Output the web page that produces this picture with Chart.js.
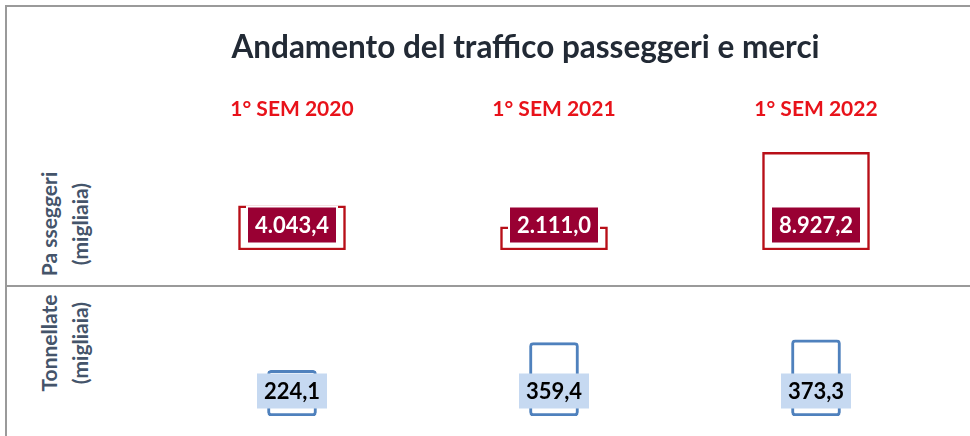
<!DOCTYPE html>
<html lang="it">
<head>
<meta charset="utf-8">
<title>Andamento del traffico passeggeri e merci</title>
<script src="https://cdn.jsdelivr.net/npm/chart.js@4.4.1/dist/chart.umd.min.js"></script>
<style>
    html, body { margin: 0; padding: 0; background: #fff; }
    body { width: 970px; height: 436px; position: relative; overflow: hidden; font-family: Lato, sans-serif; }
    .frame { position: absolute; left: 5px; top: 5px; width: 965px; height: 431px; border-top: 2px solid #9a9a9a; border-left: 2px solid #9a9a9a; }
    .divider { position: absolute; left: 5px; top: 285px; width: 965px; border-top: 2px solid #9a9a9a; }
    .side { position: absolute; color: #44546a; font-weight: bold; font-size: 21px; line-height: 31px; text-align: center; white-space: nowrap; transform: translate(-50%, -50%) rotate(-90deg); }
    canvas { position: absolute; left: 104px; }
    #passengers { top: 6px; }
    #freight { top: 286px; }
</style>
</head>
<body>
<div class="frame"></div>
<div class="divider"></div>
<div class="side" style="left: 64px; top: 224px;">Pa sseggeri<br>(migliaia)</div>
<div class="side" style="left: 64px; top: 343px;">Tonnellate<br>(migliaia)</div>
<canvas id="passengers" width="866" height="280"></canvas>
<canvas id="freight" width="866" height="150"></canvas>
<script>
const periods = ['1° SEM 2020', '1° SEM 2021', '1° SEM 2022'];
const passengers = [4043.4, 2111.0, 8927.2];   // migliaia
const freight = [224.1, 359.4, 373.3];         // tonnellate, migliaia

const FONT = 'Lato';

// 4043.4 -> "4.043,4"
function formatIt(value) {
    const parts = value.toFixed(1).split('.');
    const int = parts[0].replace(/\B(?=(\d{3})+(?!\d))/g, '.');
    return int + ',' + parts[1];
}

// draws the value boxes at a fixed height over each bar
const valueBoxes = {
    id: 'valueBoxes',
    afterDatasetsDraw(chart, args, opts) {
        const ctx = chart.ctx;
        const meta = chart.getDatasetMeta(0);
        const values = chart.data.datasets[0].data;
        ctx.save();
        meta.data.forEach((bar, i) => {
            const x = bar.x - opts.width / 2;
            const y = opts.y - opts.height / 2;
            if (opts.ring) {
                ctx.fillStyle = '#fff';
                ctx.fillRect(x - opts.ring, y - opts.ring, opts.width + opts.ring * 2, opts.height + opts.ring * 2);
            }
            ctx.fillStyle = opts.fill;
            ctx.fillRect(x, y, opts.width, opts.height);
            ctx.fillStyle = opts.color;
            ctx.font = 'bold 22px ' + FONT;
            ctx.textAlign = 'center';
            ctx.textBaseline = 'middle';
            ctx.fillText(formatIt(values[i]), bar.x, opts.y + 1);
        });
        ctx.restore();
    }
};

function hiddenY(max) {
    return {
        min: 0,
        max: max,
        ticks: { display: false },
        grid: { display: false, drawTicks: false },
        border: { display: false },
        afterFit(scale) { scale.width = 57; }
    };
}

new Chart(document.getElementById('passengers'), {
    type: 'bar',
    data: {
        labels: periods,
        datasets: [{
            data: passengers,
            backgroundColor: '#ffffff',
            borderColor: '#b80f18',
            borderWidth: 2.5,
            borderSkipped: false,
            barThickness: 107
        }]
    },
    plugins: [valueBoxes],
    options: {
        responsive: false,
        animation: false,
        layout: { padding: { left: 0, right: 23, top: 0, bottom: 36 } },
        plugins: {
            legend: { display: false },
            tooltip: { enabled: false },
            title: {
                display: true,
                text: 'Andamento del traffico passeggeri e merci',
                color: '#222a35',
                font: { family: FONT, size: 31.5, weight: 'bold', lineHeight: 1.2 },
                padding: { top: 22.5, bottom: 22 }
            },
            valueBoxes: { y: 219, width: 88, height: 35, fill: '#990033', color: '#ffffff', ring: 2 }
        },
        scales: {
            x: {
                position: 'top',
                grid: { display: false, drawTicks: false },
                border: { display: false },
                ticks: {
                    color: '#e8121a',
                    font: { family: FONT, size: 21, weight: 'bold', lineHeight: 1.2 },
                    padding: 8
                }
            },
            y: hiddenY(11000)
        }
    }
});

new Chart(document.getElementById('freight'), {
    type: 'bar',
    data: {
        labels: periods,
        datasets: [{
            data: freight,
            backgroundColor: '#ffffff',
            borderColor: '#4f81bd',
            borderWidth: 3,
            borderRadius: 4,
            borderSkipped: false,
            barThickness: 49
        }]
    },
    plugins: [valueBoxes],
    options: {
        responsive: false,
        animation: false,
        layout: { padding: { left: 0, right: 23, top: 38, bottom: 20 } },
        plugins: {
            legend: { display: false },
            tooltip: { enabled: false },
            valueBoxes: { y: 105, width: 70, height: 35, fill: '#c6d9f1', color: '#000000', ring: 0 }
        },
        scales: {
            x: { display: false },
            y: hiddenY(451)
        }
    }
});
</script>
</body>
</html>
